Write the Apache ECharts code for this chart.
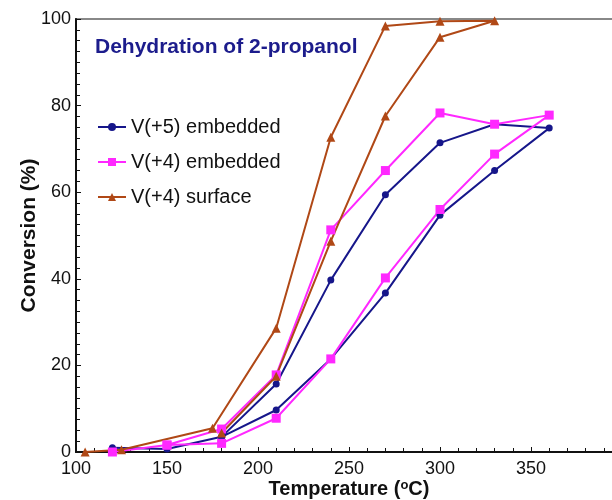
<!DOCTYPE html>
<html>
<head>
<meta charset="utf-8">
<script src="https://cdn.jsdelivr.net/npm/echarts@6/dist/echarts.min.js"></script>
<style>
  html, body { margin: 0; padding: 0; background: #fff; }
  #chart { width: 612px; height: 500px; }
</style>
</head>
<body>
<div id="chart"></div>
<script>
// heating + cooling branches, in drawing order
const v5Temp = [120, 150, 180, 210, 240, 270, 300, 330, 360, 330, 300, 270, 240, 210, 180];
const v5Conv = [1, 0.7, 3.5, 9.7, 21.5, 36.7, 54.7, 65, 74.8, 75.7, 71.4, 59.4, 39.7, 15.7, 3.5];

const v4eTemp = [120, 150, 180, 210, 240, 270, 300, 330, 360, 330, 300, 270, 240, 210, 180, 150];
const v4eConv = [0, 1.6, 2, 7.8, 21.5, 40.2, 56, 68.8, 77.8, 75.7, 78.3, 65, 51.3, 17.8, 5.3, 1.6];

const v4sTemp = [105, 125, 175, 210, 240, 270, 300, 330, 300, 270, 240, 210, 180];
const v4sConv = [0, 0.5, 5.5, 28.6, 72.7, 98.4, 99.5, 99.6, 95.8, 77.6, 48.7, 17.5, 4.4];

const pairs = (xs, ys) => xs.map((x, i) => [x, ys[i]]);

const chart = echarts.init(document.getElementById("chart"));

const font = "Liberation Sans, Arial, sans-serif";

const option = {
  animation: false,
  title: {
    text: "Dehydration of 2-propanol",
    left: 90,
    top: 32,
    textStyle: { color: "#1c1c8c", fontSize: 21, fontWeight: "bold", fontFamily: font },
  },
  legend: {
    orient: "vertical",
    left: 92,
    top: 112,
    itemGap: 15,
    itemWidth: 28,
    itemHeight: 10,
    textStyle: { fontSize: 20, color: "#111", fontFamily: font },
    data: ["V(+5) embedded", "V(+4) embedded", "V(+4) surface"],
  },
  grid: {
    // the original figure is cropped at its right edge
    left: 76,
    right: -10,
    top: 19,
    bottom: 48,
    outerBoundsMode: "none",
    show: true,
    borderColor: "#888",
    borderWidth: 2,
  },
  xAxis: {
    type: "value",
    min: 100,
    max: 400,
    interval: 50,
    name: "Temperature ({sup|o}C)",
    nameLocation: "middle",
    nameGap: 27,
    nameMoveOverlap: false,
    nameTextStyle: {
      fontSize: 20,
      fontWeight: "bold",
      color: "#111",
      fontFamily: font,
      rich: {
        sup: { fontSize: 13, fontWeight: "bold", verticalAlign: "top", color: "#111", fontFamily: font, padding: [0, 0, 8, 0] },
      },
    },
    axisLine: { lineStyle: { color: "#111", width: 2 } },
    axisTick: { inside: true, length: 5, lineStyle: { color: "#111" } },
    minorTick: { show: true, splitNumber: 5, length: 4, lineStyle: { color: "#111" } },
    axisLabel: { fontSize: 18, color: "#111", margin: 8, fontFamily: font, showMaxLabel: false },
    splitLine: { show: false },
  },
  yAxis: {
    type: "value",
    min: 0,
    max: 100,
    interval: 20,
    name: "Conversion (%)",
    nameLocation: "middle",
    nameGap: 36,
    nameMoveOverlap: false,
    nameTextStyle: { fontSize: 21, fontWeight: "bold", color: "#111", fontFamily: font },
    axisLine: { show: true, lineStyle: { color: "#111", width: 2 } },
    axisTick: { show: true, inside: true, length: 5, lineStyle: { color: "#111" } },
    minorTick: { show: true, splitNumber: 8, length: 4, lineStyle: { color: "#111" } },
    axisLabel: { fontSize: 18, color: "#111", margin: 5, fontFamily: font },
    splitLine: { show: false },
  },
  series: [
    {
      name: "V(+5) embedded",
      type: "line",
      data: pairs(v5Temp, v5Conv),
      symbol: "circle",
      symbolSize: 7,
      color: "#16168a",
      lineStyle: { width: 2 },
    },
    {
      name: "V(+4) embedded",
      type: "line",
      data: pairs(v4eTemp, v4eConv),
      symbol: "rect",
      symbolSize: 9,
      color: "#ff28ff",
      lineStyle: { width: 2 },
    },
    {
      name: "V(+4) surface",
      type: "line",
      data: pairs(v4sTemp, v4sConv),
      symbol: "triangle",
      symbolSize: 9,
      color: "#b04816",
      lineStyle: { width: 2 },
    },
  ],
};

chart.setOption(option);

window.addEventListener("resize", () => chart.resize());
</script>
</body>
</html>
